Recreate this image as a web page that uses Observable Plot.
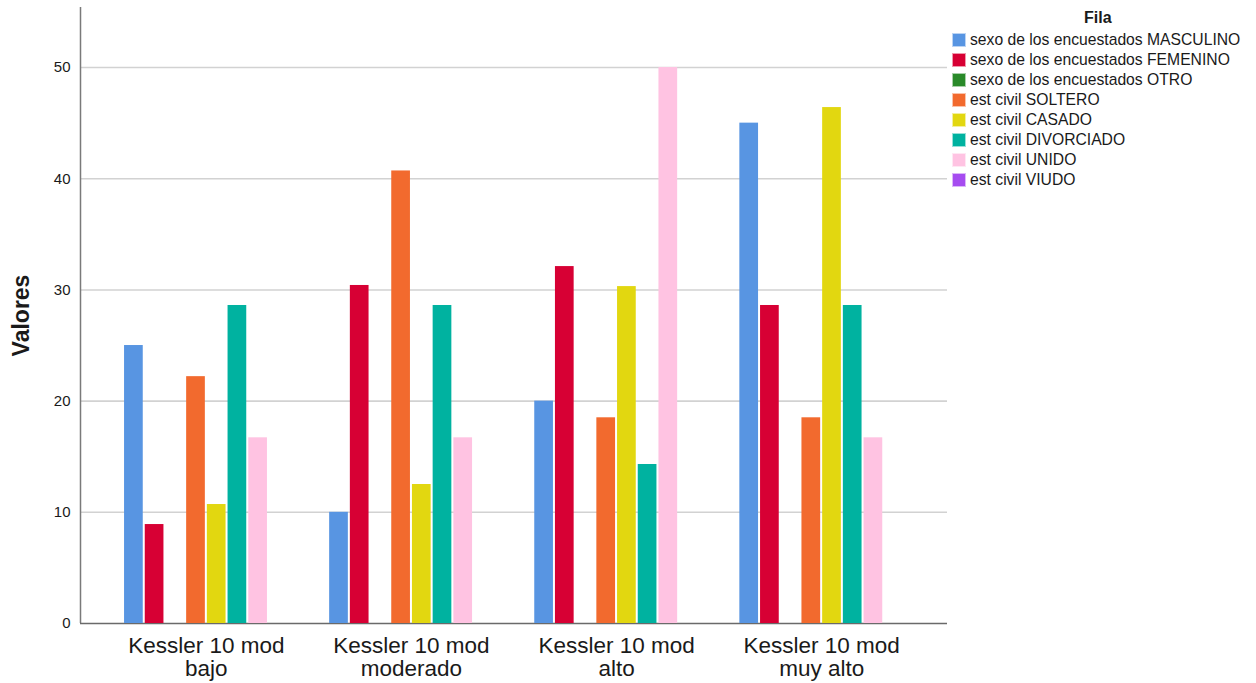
<!DOCTYPE html>
<html>
<head>
<meta charset="utf-8">
<script src="https://cdn.jsdelivr.net/npm/d3@7"></script>
<script src="https://cdn.jsdelivr.net/npm/@observablehq/plot@0.6"></script>
<style>
  body { margin: 0; background: #fff; font-family: "Liberation Sans", Arial, sans-serif; }
  #wrap { position: relative; width: 1256px; height: 683px; overflow: hidden; }
  #wrap svg { position: absolute; left: 0; top: 0; }
  #legend { position: absolute; left: 952px; top: 0; color: #1a1a1a; font-size: 15.7px; }
  #legend .title { position: absolute; left: 132px; top: 9px; font-weight: bold; font-size: 16px; white-space: nowrap; }
  #legend .row { position: absolute; left: 0; height: 20px; display: flex; align-items: center; white-space: nowrap; }
  #legend .sw { width: 14px; height: 14px; margin-right: 4px; box-sizing: border-box; border: 1px solid rgba(255,255,255,0.6); }
</style>
</head>
<body>
<div id="wrap"><div id="legend"></div></div>
<script>
// ---- data ----
const categories = ["Kessler 10 mod\nbajo", "Kessler 10 mod\nmoderado", "Kessler 10 mod\nalto", "Kessler 10 mod\nmuy alto"];
const series = [
  "sexo de los encuestados MASCULINO",
  "sexo de los encuestados FEMENINO",
  "sexo de los encuestados OTRO",
  "est civil SOLTERO",
  "est civil CASADO",
  "est civil DIVORCIADO",
  "est civil UNIDO",
  "est civil VIUDO"
];
const colors = ["#5895E2", "#D70034", "#2A8A2A", "#F26A2E", "#E2D710", "#00B2A0", "#FFC3E2", "#A64CF0"];
const masculino  = [25, 10, 20, 45];
const femenino   = [8.9, 30.4, 32.1, 28.6];
const otro       = [null, null, null, null];
const soltero    = [22.2, 40.7, 18.5, 18.5];
const casado     = [10.7, 12.5, 30.3, 46.4];
const divorciado = [28.6, 28.6, 14.3, 28.6];
const unido      = [16.7, 16.7, 50, 16.7];
const viudo      = [null, null, null, null];
const yTicks = [0, 10, 20, 30, 40, 50];
const yGrid = [10, 20, 30, 40, 50];

const valuesBySeries = [masculino, femenino, otro, soltero, casado, divorciado, unido, viudo];
const rows = [];
series.forEach((s, i) => valuesBySeries[i].forEach((v, j) => {
  if (v != null) rows.push({cat: categories[j], series: s, value: v});
}));

const W = 1256, H = 683, ML = 80, MR = 309, MT = 7, MB = 60;
const yDomain = [0, 55.4];
const font = "'Liberation Sans', Arial, sans-serif";

// ---- base layer: grid, axes ----
const base = Plot.plot({
  width: W, height: H,
  marginLeft: ML, marginRight: MR, marginTop: MT, marginBottom: MB,
  style: {fontFamily: font, fontSize: "15px", color: "#1a1a1a", background: "transparent", overflow: "visible"},
  x: {domain: [0, 1], axis: null},
  y: {domain: yDomain, axis: null},
  marks: [
    Plot.ruleY(yGrid, {y: d => d, stroke: "#d2d2d2", strokeWidth: 1.6}),
    Plot.axisY({ticks: yTicks, tickSize: 0, tickPadding: 10, fontSize: 15, label: "Valores", labelAnchor: "center", labelOffset: 68, labelArrow: "none"}),
    Plot.ruleX([0], {x: d => d, y1: 0, y2: yDomain[1], stroke: "#7a7a7a", strokeWidth: 1.5}),
    Plot.ruleY([0], {y: d => d, stroke: "#6a6a6a", strokeWidth: 1.6})
  ]
});

// ---- bars layer ----
const bars = Plot.plot({
  width: W, height: H,
  marginLeft: ML, marginRight: MR, marginTop: MT, marginBottom: MB,
  style: {fontFamily: font, fontSize: "23px", color: "#1a1a1a", background: "transparent", overflow: "visible"},
  fx: {domain: categories, paddingInner: 0, paddingOuter: 0.1136, round: false, label: null},
  x: {domain: series, axis: null, paddingInner: 0, paddingOuter: 0.954, round: false},
  y: {domain: yDomain, axis: null},
  color: {domain: series, range: colors},
  marks: [
    Plot.barY(rows, {fx: "cat", x: "series", y: "value", fill: "series", insetLeft: 1, insetRight: 1}),
    Plot.axisFx({anchor: "bottom", tickSize: 0, tickPadding: 14, fontSize: 22.5, lineHeight: 1.0, label: null})
  ]
});

const wrap = document.getElementById("wrap");
wrap.insertBefore(base, wrap.firstChild);
wrap.insertBefore(bars, document.getElementById("legend"));

// style the y label
base.querySelectorAll('g[aria-label="y-axis label"] text').forEach(t => {
  t.style.fontWeight = "bold";
  t.style.fontSize = "23px";
});

// ---- legend ----
const legend = document.getElementById("legend");
const title = document.createElement("div");
title.className = "title";
title.textContent = "Fila";
legend.appendChild(title);
series.forEach((s, i) => {
  const r = document.createElement("div");
  r.className = "row";
  r.style.top = (30 + i * 20) + "px";
  const sw = document.createElement("span");
  sw.className = "sw";
  sw.style.background = colors[i];
  const t = document.createElement("span");
  t.textContent = s;
  r.appendChild(sw);
  r.appendChild(t);
  legend.appendChild(r);
});
</script>
</body>
</html>
